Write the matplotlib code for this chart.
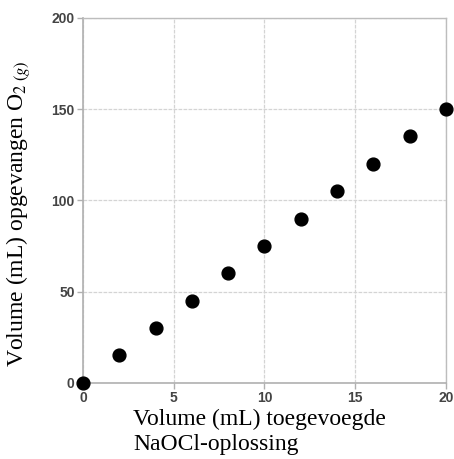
import matplotlib
matplotlib.use("Agg")
import matplotlib.pyplot as plt

x_vals = [0, 2, 4, 6, 8, 10, 12, 14, 16, 18, 20]
y_vals = [0, 15, 30, 45, 60, 75, 90, 105, 120, 135, 150]
x_ticks = [0, 5, 10, 15, 20]
y_ticks = [0, 50, 100, 150, 200]

fig = plt.figure(figsize=(4.54, 4.59), dpi=100)
ax = fig.add_axes([0.183, 0.166, 0.799, 0.795])
ax.set_xlim(0, 20)
ax.set_ylim(0, 200)
ax.set_xticks(x_ticks)
ax.set_yticks(y_ticks)
ax.grid(True, color="#d4d4d4", linewidth=0.9, linestyle=(0, (3, 1)))
ax.set_axisbelow(True)
for s in ["top", "right"]:
    ax.spines[s].set_color("#bdbdbd")
    ax.spines[s].set_linewidth(1.0)
for s in ["left", "bottom"]:
    ax.spines[s].set_color("#b0b0b0")
    ax.spines[s].set_linewidth(1.2)
ax.tick_params(axis="both", colors="#b0b0b0", labelcolor="#444444", length=4, width=1, pad=2)
for lab in ax.get_xticklabels() + ax.get_yticklabels():
    lab.set_fontfamily("Liberation Sans")
    lab.set_fontweight("bold")
    lab.set_fontsize(10)
ax.scatter(x_vals, y_vals, s=85, color="black", zorder=3, clip_on=False)

fig.text(0.042, 0.535, "Volume (mL) opgevangen O$_{2\\ (g)}$", rotation=90,
         ha="center", va="center", fontsize=17, family="Liberation Serif",
         math_fontfamily="stix")
fig.text(0.293, 0.110, "Volume (mL) toegevoegde\nNaOCl-oplossing", ha="left", va="top",
         fontsize=17, family="Liberation Serif", linespacing=1.3)

fig.savefig("out.png", dpi=100)
